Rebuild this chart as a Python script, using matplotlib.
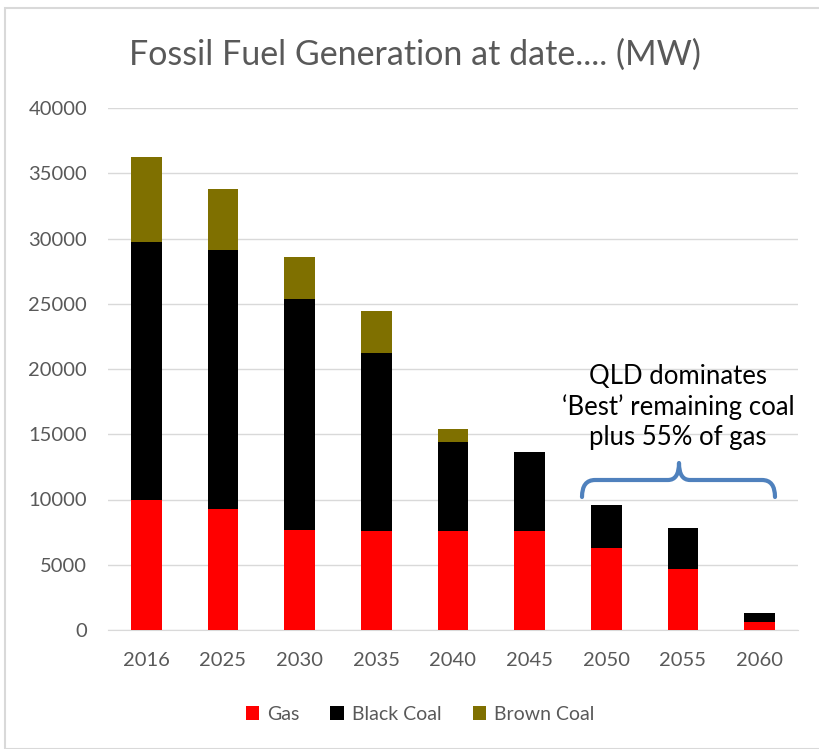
import numpy as np
import matplotlib.pyplot as plt
from matplotlib.path import Path
from matplotlib.patches import PathPatch, Rectangle

plt.rcParams['font.family'] = ['Lato', 'DejaVu Sans']

years = ['2016', '2025', '2030', '2035', '2040', '2045', '2050', '2055', '2060']
gas = [10000, 9300, 7650, 7550, 7550, 7550, 6300, 4700, 600]
black_coal = [19750, 19800, 17700, 13700, 6850, 6100, 3300, 3150, 680]
brown_coal = [6500, 4700, 3200, 3200, 1000, 0, 0, 0, 0]
yticks = [0, 5000, 10000, 15000, 20000, 25000, 30000, 35000, 40000]
note = 'QLD dominates\n\u2018Best\u2019 remaining coal\nplus 55% of gas'

txt = '#595959'
grid = '#D9D9D9'

W, H = 819, 749
fig = plt.figure(figsize=(W / 100, H / 100), dpi=100)
ax = fig.add_axes([108 / W, 1 - 630 / H, 690 / W, 522 / H])

x = np.arange(len(years))
gas = np.array(gas)
black_coal = np.array(black_coal)
brown_coal = np.array(brown_coal)
w = 0.4
ax.bar(x, gas, w, color='#FF0000', label='Gas', zorder=3)
ax.bar(x, black_coal, w, bottom=gas, color='#000000', label='Black Coal', zorder=3)
ax.bar(x, brown_coal, w, bottom=gas + black_coal, color='#7F7000', label='Brown Coal', zorder=3)

ax.set_xlim(-0.5, len(years) - 0.5)
ax.set_ylim(0, 40000)
ax.set_yticks(yticks)
ax.set_yticklabels([str(v) for v in yticks])
ax.set_xticks(x)
ax.set_xticklabels(years)
ax.tick_params(length=0, labelsize=14.5, colors=txt)
ax.tick_params(axis='x', pad=16)
ax.tick_params(axis='y', pad=15)
ax.grid(axis='y', color=grid, lw=1, zorder=0)
for s in ['top', 'right', 'left']:
    ax.spines[s].set_visible(False)
ax.spines['bottom'].set_color(grid)

fig.text(415 / W, 1 - 55 / H, 'Fossil Fuel Generation at date.... (MW)',
         ha='center', va='center', fontsize=24.5, color=txt)

ax.legend(loc='center', bbox_to_anchor=(420 / W, 1 - 714 / H), bbox_transform=fig.transFigure,
          ncol=3, frameon=False, fontsize=14, labelcolor=txt,
          handlelength=0.7, handleheight=0.7, handletextpad=0.4, columnspacing=1.6)

fig.text(678 / W, 1 - 407 / H, note, ha='center', va='center', fontsize=18.5,
         color='#000000', linespacing=1.25)

# curly bracket, pixel coords
def p(px, py):
    return (px / W, 1 - py / H)

verts = [p(582, 497), p(582, 480), p(595, 480), p(668, 480), p(679, 480), p(679, 463),
         p(679, 480), p(690, 480), p(762, 480), p(775, 480), p(775, 497)]
codes = [Path.MOVETO, Path.CURVE3, Path.CURVE3, Path.LINETO, Path.CURVE3, Path.CURVE3,
         Path.CURVE3, Path.CURVE3, Path.LINETO, Path.CURVE3, Path.CURVE3]
fig.patches.append(PathPatch(Path(verts, codes), transform=fig.transFigure, fill=False,
                             edgecolor='#4F81BD', lw=3, capstyle='round', joinstyle='round'))

fig.patches.append(Rectangle((5 / W, 0), 1, 1 - 8 / H, transform=fig.transFigure,
                             fill=False, edgecolor='#D9D9D9', lw=1.5))

plt.savefig('out.png', dpi=100)
